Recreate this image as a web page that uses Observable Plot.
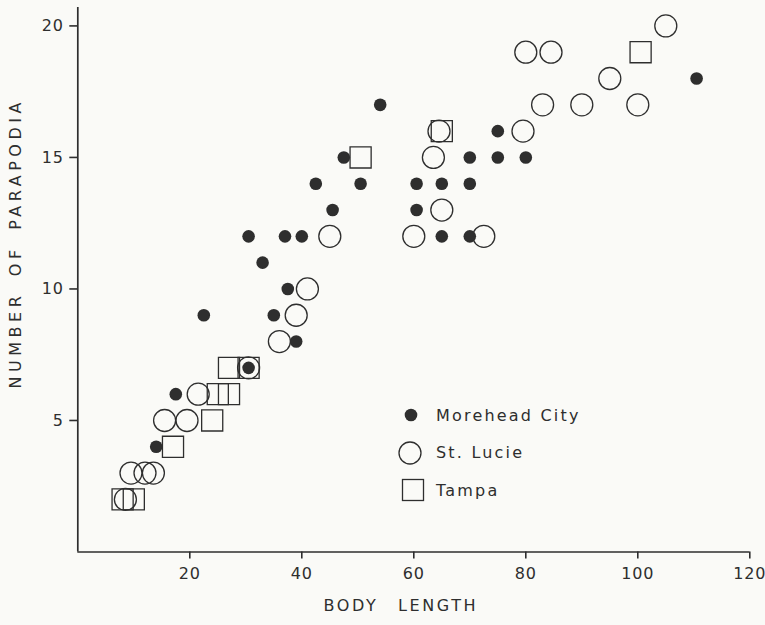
<!DOCTYPE html>
<html>
<head>
<meta charset="utf-8">
<script src="https://cdn.jsdelivr.net/npm/d3@7"></script>
<script src="https://cdn.jsdelivr.net/npm/@observablehq/plot@0.6"></script>
<style>
  html, body { margin: 0; padding: 0; background: #fafaf7; }
  #wrap { position: relative; width: 765px; height: 625px; overflow: hidden; }
  #wrap > svg { position: absolute; left: 0; top: 0; }
  .legend-row { position: absolute; left: 398px; height: 26px; display: flex; align-items: center;
    font-family: "DejaVu Sans", sans-serif; font-size: 16px; letter-spacing: 2.2px; color: #2e2e2e; white-space: nowrap; }
  .legend-row svg { display: block; width: 26px; height: 26px; margin-right: 12px; overflow: visible; }
</style>
</head>
<body>
<div id="wrap"></div>
<script>
// [body length, number of parapodia]
const moreheadCity = [
  [110.5, 18], [54, 17], [75, 16], [47.5, 15], [70, 15], [75, 15], [80, 15],
  [42.5, 14], [50.5, 14], [60.5, 14], [65, 14], [70, 14], [45.5, 13], [60.5, 13],
  [30.5, 12], [37, 12], [40, 12], [65, 12], [70, 12], [33, 11], [37.5, 10],
  [22.5, 9], [35, 9], [39, 8], [30.5, 7], [17.5, 6], [14, 4]
];
const stLucie = [
  [105, 20], [80, 19], [84.5, 19], [95, 18], [83, 17], [90, 17], [100, 17],
  [79.5, 16], [64.5, 16], [63.5, 15], [65, 13], [45, 12], [60, 12], [72.5, 12],
  [41, 10], [39, 9], [36, 8], [30.5, 7], [21.5, 6], [15.5, 5], [19.5, 5],
  [9.5, 3], [12, 3], [13.5, 3], [8.5, 2]
];
const tampa = [
  [100.5, 19], [65, 16], [50.5, 15], [27, 7], [30.5, 7], [25, 6], [27, 6],
  [24, 5], [17, 4], [8, 2], [10, 2]
];
const seriesNames = ["Morehead City", "St. Lucie", "Tampa"];
const xTicks = [20, 40, 60, 80, 100, 120];
const yTicks = [5, 10, 15, 20];
const xTitle = "BODY LENGTH";
const yTitle = "NUMBER OF PARAPODIA";

const INK = "#2e2e2e";

const plot = Plot.plot({
  width: 765,
  height: 625,
  marginLeft: 77.3,
  marginRight: 15.7,
  marginTop: 7,
  marginBottom: 73.5,
  x: { domain: [0, 120] },
  y: { domain: [0, 20.7] },
  style: { background: "transparent", fontFamily: "DejaVu Sans, sans-serif", fontSize: "16px", color: INK },
  marks: [
    Plot.axisX({ ticks: xTicks, tickSize: 7, tickPadding: 9, label: null, fontSize: 16, strokeWidth: 1.6, stroke: INK, fill: INK }),
    Plot.axisY({ ticks: yTicks, tickSize: 8, tickPadding: 6, label: null, fontSize: 16, strokeWidth: 1.6, stroke: INK, fill: INK }),
    Plot.ruleX([0], { stroke: INK, strokeWidth: 1.7 }),
    Plot.ruleY([0], { stroke: INK, strokeWidth: 1.7 }),
    Plot.dot(stLucie, { x: d => d[0], y: d => d[1], r: 11, fill: "none", stroke: INK, strokeWidth: 1.3 }),
    Plot.dot(tampa, { x: d => d[0], y: d => d[1], symbol: "square", r: 11.9, fill: "none", stroke: INK, strokeWidth: 1.3 }),
    Plot.dot(moreheadCity, { x: d => d[0], y: d => d[1], r: 6.3, fill: INK, stroke: "none" }),
    Plot.text([xTitle], { text: d => d, frameAnchor: "bottom", lineAnchor: "middle", textAnchor: "middle", dx: -13, dy: 54, fontSize: 16, fill: INK }),
    Plot.text([yTitle], { text: d => d, frameAnchor: "left", rotate: -90, lineAnchor: "middle", textAnchor: "middle", dx: -62, dy: -36.5, fontSize: 16, fill: INK })
  ]
});
const wrap = document.getElementById("wrap");
wrap.appendChild(plot);

// letter spacing like the lettering-guide text of the original
d3.select(plot).selectAll("text").each(function () {
  const t = this.textContent;
  if (t === xTitle) { this.style.letterSpacing = "2.6px"; this.style.wordSpacing = "12px"; }
  else if (t === yTitle) { this.style.letterSpacing = "4.5px"; this.style.wordSpacing = "6px"; }
  else { this.style.letterSpacing = "0.8px"; }
});

// legend
const centers = [415, 452.7, 490];
seriesNames.forEach((name, i) => {
  const row = document.createElement("div");
  row.className = "legend-row";
  row.style.top = (centers[i] - 13) + "px";
  let icon;
  if (i === 0) icon = `<circle cx="13" cy="13" r="6.3" fill="${INK}"/>`;
  else if (i === 1) icon = `<circle cx="12" cy="13" r="11" fill="none" stroke="${INK}" stroke-width="1.3"/>`;
  else icon = `<rect x="4.5" y="2.5" width="21" height="21" fill="none" stroke="${INK}" stroke-width="1.3"/>`;
  row.innerHTML = `<svg viewBox="0 0 26 26">${icon}</svg><span>${name}</span>`;
  wrap.appendChild(row);
});
</script>
</body>
</html>
